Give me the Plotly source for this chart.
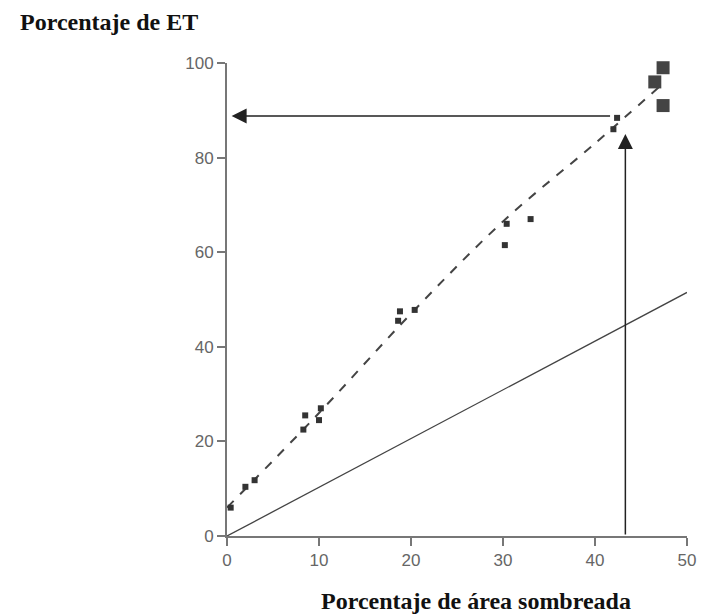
import plotly.graph_objects as go

# Observed points (percent shaded area vs percent ET)
small_x = [0.4, 2.0, 3.0, 8.3, 8.5, 10.0, 10.2, 18.6, 18.8, 20.4, 30.4, 30.2, 33.0, 42.4, 42.0]
small_y = [6.0, 10.4, 11.8, 22.5, 25.5, 24.5, 27.0, 45.5, 47.5, 47.8, 66.0, 61.5, 67.0, 88.4, 86.0]
big_x = [47.4, 46.5, 47.4]
big_y = [99.0, 96.0, 91.0]

# Fitted curve (dashed)
fit_x = [0, 10, 20, 30, 40, 47]
fit_y = [6, 26, 47, 66.5, 83, 95]

# Reference line (solid)
ref_x = [0, 50]
ref_y = [0, 51.5]

# Reading arrows
read_x = 43.3
read_y = 88.8
tip_y = 85.0

x_ticks = [0, 10, 20, 30, 40, 50]
y_ticks = [0, 20, 40, 60, 80, 100]

fig = go.Figure()
fig.add_trace(go.Scatter(x=ref_x, y=ref_y, mode="lines",
                         line=dict(color="#444", width=1.3), hoverinfo="skip"))
fig.add_trace(go.Scatter(x=fit_x, y=fit_y, mode="lines",
                         line=dict(color="#444", width=2, dash="dash", shape="spline"),
                         hoverinfo="skip"))
fig.add_trace(go.Scatter(x=small_x, y=small_y, mode="markers",
                         marker=dict(symbol="square", size=6, color="#333"),
                         cliponaxis=False))
fig.add_trace(go.Scatter(x=big_x, y=big_y, mode="markers",
                         marker=dict(symbol="square", size=13, color="#444"),
                         cliponaxis=False))

# Horizontal arrow pointing to y-axis
fig.add_annotation(x=0.5, y=read_y, ax=41.8, ay=read_y, xref="x", yref="y",
                   axref="x", ayref="y", showarrow=True, arrowhead=2,
                   arrowsize=2, arrowwidth=1.5, arrowcolor="#222", text="")
# Vertical arrow from x-axis
fig.add_annotation(x=read_x, y=tip_y, ax=read_x, ay=0, xref="x", yref="y",
                   axref="x", ayref="y", showarrow=True, arrowhead=2,
                   arrowsize=2, arrowwidth=1.5, arrowcolor="#222", text="")

fig.add_annotation(text="<b>Porcentaje de ET</b>", xref="paper", yref="paper",
                   x=-0.4543, y=1.0867, xanchor="left", yanchor="middle", showarrow=False,
                   font=dict(family="Liberation Serif", size=24, color="#111"))
fig.add_annotation(text="<b>Porcentaje de área sombreada</b>", xref="paper", yref="paper",
                   x=0.5413, y=-0.1370, xanchor="center", yanchor="middle", showarrow=False,
                   font=dict(family="Liberation Serif", size=24, color="#111"))

axis_common = dict(showgrid=False, zeroline=False, showline=True, linecolor="#777", linewidth=2,
                   ticks="outside", ticklen=8, tickwidth=2, tickcolor="#777",
                   tickfont=dict(family="Liberation Sans", size=17, color="#666"))
fig.update_xaxes(range=[0, 50], tickvals=x_ticks, **axis_common)
fig.update_yaxes(range=[0, 100], tickvals=y_ticks, **axis_common)

fig.update_layout(width=700, height=608, showlegend=False,
                  paper_bgcolor="white", plot_bgcolor="white",
                  margin=dict(l=219, r=21, t=55, b=80))
fig.write_html("out.html")
